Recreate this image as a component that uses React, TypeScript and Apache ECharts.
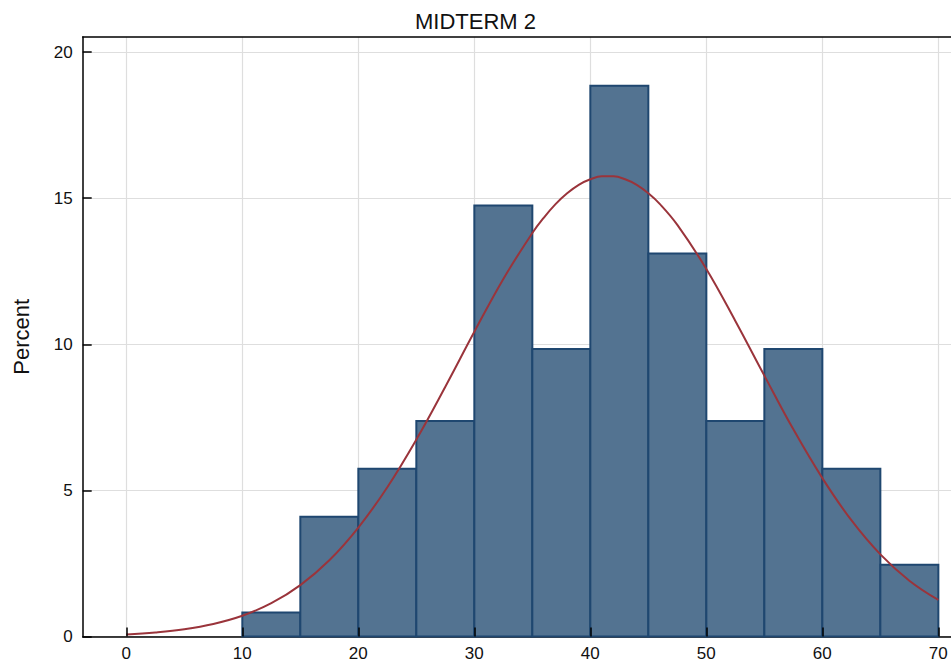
import React, { useEffect, useRef } from "react";
import * as echarts from "echarts";

// Histogram bins (MIDTERM 2 score), percent of students per bin
const binStarts = [10, 15, 20, 25, 30, 35, 40, 45, 50, 55, 60, 65];
const binEnds = [15, 20, 25, 30, 35, 40, 45, 50, 55, 60, 65, 70];
const binPercents = [0.82, 4.1, 5.74, 7.38, 14.75, 9.84, 18.85, 13.11, 7.38, 9.84, 5.74, 2.46];

// Fitted normal curve
const curveX = [0, 2.5, 5, 7.5, 10, 12.5, 15, 17.5, 20, 22.5, 25, 27.5, 30, 32.5, 35, 36, 37, 38, 39, 40, 41, 42, 43, 44, 45, 46, 47.5, 50, 52.5, 55, 57.5, 60, 62.5, 65, 67.5, 70];
const curveY = [0.07, 0.14, 0.25, 0.43, 0.71, 1.14, 1.76, 2.61, 3.73, 5.11, 6.74, 8.55, 10.43, 12.24, 13.81, 14.34, 14.8, 15.17, 15.46, 15.65, 15.75, 15.75, 15.65, 15.46, 15.17, 14.8, 14.09, 12.58, 10.8, 8.93, 7.09, 5.42, 3.98, 2.81, 1.91, 1.25];

const xTickLabels = ["0", "10", "20", "30", "40", "50", "60", "70"];
const yTickLabels = ["0", "5", "10", "15", "20"];

const FONT = "Liberation Sans, Arial, Helvetica, sans-serif";
const BAR_FILL = "#537391";
const BAR_STROKE = "#1f4770";
const CURVE = "#9a343b";
const GRID_LINE = "#dedede";

export default function App() {
  const ref = useRef<HTMLDivElement>(null);
  useEffect(() => {
    if (!ref.current) return;
    const chart = echarts.init(ref.current, undefined, { renderer: "svg" });
    const bars = binStarts.map((s, i) => [s, binEnds[i], binPercents[i]]);
    const curve = curveX.map((x, i) => [x, curveY[i]]);
    const gridTop = 37;
    const gridBottom = 29.5;
    const plotLeft = 82.7;
    const option: any = {
      animation: false,
      title: {
        text: "MIDTERM 2",
        left: "center",
        top: 5,
        textStyle: { fontFamily: FONT, fontSize: 22, fontWeight: "normal", color: "#111" },
      },
      grid: [
        { left: plotLeft, right: 0, top: gridTop, bottom: gridBottom },
        { left: 126.3, right: 12.7, top: gridTop, bottom: gridBottom },
        { left: 126.3, right: 12.7, top: gridTop, bottom: gridBottom },
        { left: plotLeft, right: 0, top: 52, bottom: gridBottom },
      ],
      xAxis: [
        {
          gridIndex: 0, type: "value", min: -3.76, max: 71.09, position: "bottom",
          axisLine: { show: true, onZero: false, lineStyle: { color: "#000", width: 1.5 } },
          axisTick: { show: false }, axisLabel: { show: false }, splitLine: { show: false },
        },
        {
          gridIndex: 0, type: "value", min: -3.76, max: 71.09, position: "top",
          axisLine: { show: true, onZero: false, lineStyle: { color: "#000", width: 1.5 } },
          axisTick: { show: false }, axisLabel: { show: false }, splitLine: { show: false },
        },
        {
          gridIndex: 1, type: "value", min: 0, max: 70, interval: 10, position: "bottom",
          axisLine: { show: false, onZero: false }, axisTick: { show: false },
          axisLabel: {
            show: true, margin: 8, fontFamily: FONT, fontSize: 17, color: "#111",
            formatter: (v: number) => xTickLabels[Math.round(v / 10)] ?? "",
          },
          splitLine: { show: true, lineStyle: { color: GRID_LINE, width: 1.2 } },
        },
        {
          gridIndex: 2, type: "value", min: 0, max: 70, interval: 10, position: "bottom", z: 10,
          axisLine: { show: false, onZero: false },
          axisTick: { show: true, inside: true, length: 9, lineStyle: { color: "#000", width: 1.5 } },
          axisLabel: { show: false }, splitLine: { show: false },
        },
        { gridIndex: 3, type: "value", min: 0, max: 70, show: false },
      ],
      yAxis: [
        {
          gridIndex: 0, type: "value", min: 0, max: 20.52,
          name: "Percent", nameLocation: "middle", nameGap: 50,
          nameTextStyle: { fontFamily: FONT, fontSize: 22, color: "#111" },
          axisLine: { show: true, onZero: false, lineStyle: { color: "#000", width: 1.5 } },
          axisTick: { show: false }, axisLabel: { show: false }, splitLine: { show: false },
        },
        { gridIndex: 1, type: "value", min: 0, max: 20, show: false },
        { gridIndex: 2, type: "value", min: 0, max: 20, show: false },
        {
          gridIndex: 3, type: "value", min: 0, max: 20, interval: 5,
          axisLine: { show: false, onZero: false },
          axisTick: { show: true, inside: true, length: 9, lineStyle: { color: "#000", width: 1.5 } },
          axisLabel: {
            show: true, margin: 10, fontFamily: FONT, fontSize: 17, color: "#111",
            formatter: (v: number) => yTickLabels[Math.round(v / 5)] ?? "",
          },
          splitLine: { show: true, lineStyle: { color: GRID_LINE, width: 1.2 } },
        },
      ],
      series: [
        {
          type: "custom",
          xAxisIndex: 0,
          yAxisIndex: 0,
          z: 2,
          data: bars,
          encode: { x: [0, 1], y: 2 },
          renderItem: (_params: any, api: any) => {
            const p0 = api.coord([api.value(0), api.value(2)]);
            const p1 = api.coord([api.value(1), 0]);
            return {
              type: "rect",
              shape: { x: p0[0], y: p0[1], width: p1[0] - p0[0], height: p1[1] - p0[1] },
              style: { fill: BAR_FILL, stroke: BAR_STROKE, lineWidth: 2 },
            };
          },
        },
        {
          type: "line",
          xAxisIndex: 0,
          yAxisIndex: 0,
          z: 4,
          data: curve,
          smooth: 0.4,
          showSymbol: false,
          symbol: "none",
          lineStyle: { color: CURVE, width: 2 },
        },
      ],
    };
    chart.setOption(option);
    return () => chart.dispose();
  }, []);
  return (
    <div
      ref={ref}
      style={{ position: "fixed", left: 0, top: 0, width: 951, height: 666, background: "#fff" }}
    />
  );
}
